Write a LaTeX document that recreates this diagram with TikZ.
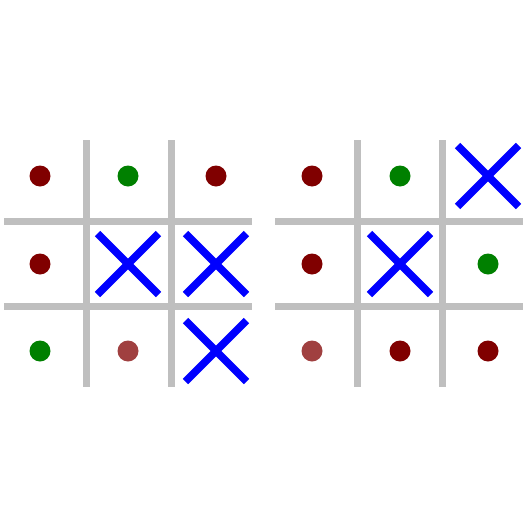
\documentclass[tikz,border=0pt]{standalone}
\definecolor{darkred}{RGB}{128,0,0}
\definecolor{lightred}{RGB}{160,64,64}
\definecolor{boardgreen}{RGB}{0,128,0}
\definecolor{boardgray}{RGB}{191,191,191}

\tikzset{
    gridline/.style={draw=boardgray, line width=7pt},
    crossline/.style={draw=blue, line width=7.5pt},
    dot/.style={circle, inner sep=0pt, minimum size=21pt},
    cross/.pic={\draw[crossline] (-30.5,-30.5) -- (30.5,30.5) (-30.5,30.5) -- (30.5,-30.5);}
}

\begin{document}
\begin{tikzpicture}[x=1pt, y=-1pt]
    \useasboundingbox (0,0) rectangle (525,525);

    % Left board grid
    \draw[gridline] (86,140) -- (86,387);
    \draw[gridline] (171,140) -- (171,387);
    \draw[gridline] (4,221) -- (252,221);
    \draw[gridline] (4,306) -- (252,306);

    % Left board marks
    \node[dot, fill=darkred] (l11) at (40,176) {};
    \node[dot, fill=boardgreen] (l12) at (128,176) {};
    \node[dot, fill=darkred] (l13) at (216,176) {};
    \node[dot, fill=darkred] (l21) at (40,264) {};
    \pic at (128,264) {cross};
    \pic at (216,264) {cross};
    \node[dot, fill=boardgreen] (l31) at (40,351) {};
    \node[dot, fill=lightred] (l32) at (128,351) {};
    \pic at (216,351) {cross};

    % Right board grid
    \draw[gridline] (357,140) -- (357,387);
    \draw[gridline] (442,140) -- (442,387);
    \draw[gridline] (275,221) -- (523,221);
    \draw[gridline] (275,306) -- (523,306);

    % Right board marks
    \node[dot, fill=darkred] (r11) at (312,176) {};
    \node[dot, fill=boardgreen] (r12) at (400,176) {};
    \pic at (488,176) {cross};
    \node[dot, fill=darkred] (r21) at (312,264) {};
    \pic at (400,264) {cross};
    \node[dot, fill=boardgreen] (r23) at (488,264) {};
    \node[dot, fill=lightred] (r31) at (312,351) {};
    \node[dot, fill=darkred] (r32) at (400,351) {};
    \node[dot, fill=darkred] (r33) at (488,351) {};
\end{tikzpicture}
\end{document}
